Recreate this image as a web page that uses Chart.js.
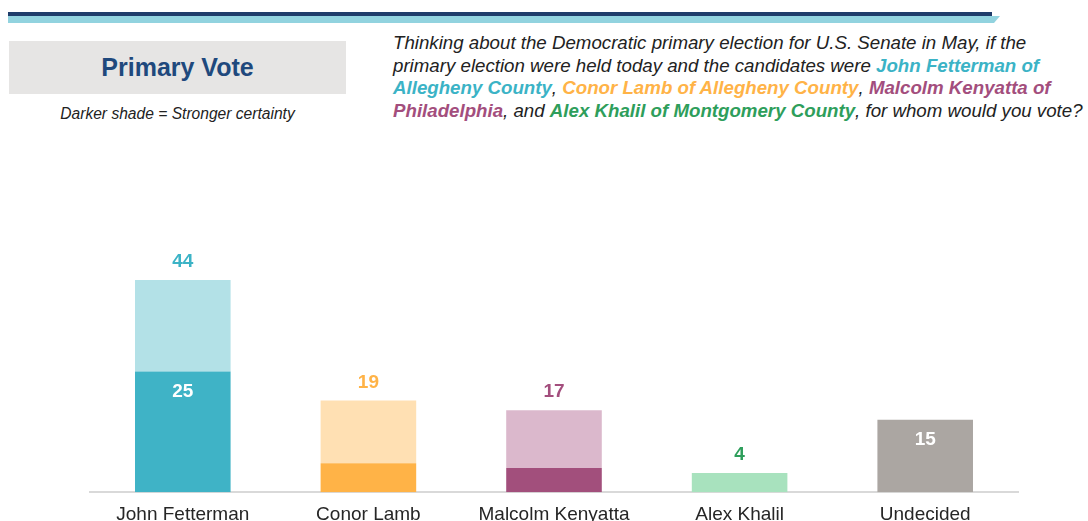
<!DOCTYPE html>
<html>
<head>
<meta charset="utf-8">
<script src="https://cdn.jsdelivr.net/npm/chart.js@4"></script>
<style>
  html, body { margin:0; padding:0; width:1088px; height:521px; overflow:hidden; background:#fff; font-family:"Liberation Sans", Arial, sans-serif; }
  #band { position:absolute; left:0; top:0; }
  #titlebox { position:absolute; left:9px; top:41px; width:337px; height:53px; background:#e6e5e4; display:flex; align-items:center; justify-content:center; font-weight:bold; font-size:25px; color:#1f497d; }
  #note { position:absolute; left:9px; top:105px; width:337px; text-align:center; font-style:italic; font-size:15.6px; color:#222; }
  #question { position:absolute; left:393px; top:32px; font-style:italic; font-size:18.7px; line-height:22.5px; color:#222; white-space:nowrap; }
  #question b { font-weight:bold; }
  .c1 { color:#3bb3c6; } .c2 { color:#ffb347; } .c3 { color:#a34e7d; } .c4 { color:#2e9e5b; }
  #wrap { position:absolute; left:0; top:0; width:1088px; height:540px; }
</style>
</head>
<body>
<svg id="band" width="1088" height="30">
  <polygon points="8,16 1000,16 994,23 8,23" fill="#92d3df"/>
  <rect x="8" y="12" width="984" height="4" fill="#1f3d6b"/>
</svg>
<div id="titlebox">Primary Vote</div>
<div id="note">Darker shade = Stronger certainty</div>
<div id="question">Thinking about the Democratic primary election for U.S. Senate in May, if the<br>primary election were held today and the candidates were <b class="c1">John Fetterman of</b><br><b class="c1">Allegheny County</b>, <b class="c2">Conor Lamb of Allegheny County</b>, <b class="c3">Malcolm Kenyatta of</b><br><b class="c3">Philadelphia</b>, and <b class="c4">Alex Khalil of Montgomery County</b>, for whom would you vote?</div>
<div id="wrap"><canvas id="c"></canvas></div>
<script>
const categories = ["John Fetterman", "Conor Lamb", "Malcolm Kenyatta", "Alex Khalil", "Undecided"];
const strongValues = [25, 6, 5, 0, 15];
const softValues = [19, 13, 12, 4, 0];
const topLabels = ["44", "19", "17", "4", ""];
const innerLabels = ["25", "", "", "", "15"];
const darkColors = ["#3fb3c6", "#ffb347", "#a24f7c", "#a8e2be", "#aba6a2"];
const lightColors = ["#b3e1e7", "#ffe0b3", "#dbb8cc", "#a8e2be", "#aba6a2"];
const labelColors = ["#3bb3c6", "#ffb347", "#a34e7d", "#2e9e5b", "#ffffff"];

const labelPlugin = {
  id: 'labels',
  afterDatasetsDraw(chart) {
    const ctx = chart.ctx;
    const m0 = chart.getDatasetMeta(0), m1 = chart.getDatasetMeta(1);
    ctx.save();
    ctx.textAlign = 'center';
    ctx.textBaseline = 'middle';
    ctx.font = 'bold 19px "Liberation Sans", Arial, sans-serif';
    categories.forEach((c, i) => {
      const e0 = m0.data[i], e1 = m1.data[i];
      const top = Math.min(e0.y, e1.y);
      if (topLabels[i]) {
        ctx.fillStyle = labelColors[i];
        ctx.fillText(topLabels[i], e0.x, top - 18);
      }
      if (innerLabels[i]) {
        ctx.fillStyle = '#ffffff';
        ctx.fillText(innerLabels[i], e0.x, e0.y + 20);
      }
    });
    ctx.restore();
  }
};

new Chart(document.getElementById('c'), {
  type: 'bar',
  data: {
    labels: categories,
    datasets: [
      { label: 'Strong', data: strongValues, backgroundColor: darkColors, borderWidth: 0, categoryPercentage: 1, barPercentage: 0.515 },
      { label: 'Not so strong', data: softValues, backgroundColor: lightColors, borderWidth: 0, categoryPercentage: 1, barPercentage: 0.515 }
    ]
  },
  options: {
    responsive: true,
    maintainAspectRatio: false,
    animation: false,
    layout: { padding: { top: 251, left: 90, right: 70, bottom: 3 } },
    plugins: { legend: { display: false }, tooltip: { enabled: false } },
    scales: {
      x: {
        stacked: true,
        grid: { display: false, drawTicks: false },
        border: { display: true, color: '#d9d9d9', width: 2 },
        ticks: { color: '#262626', padding: 11, font: { size: 19, family: '"Liberation Sans", Arial, sans-serif' } }
      },
      y: { stacked: true, display: false, min: 0, max: 50 }
    }
  },
  plugins: [labelPlugin]
});
</script>
</body>
</html>
